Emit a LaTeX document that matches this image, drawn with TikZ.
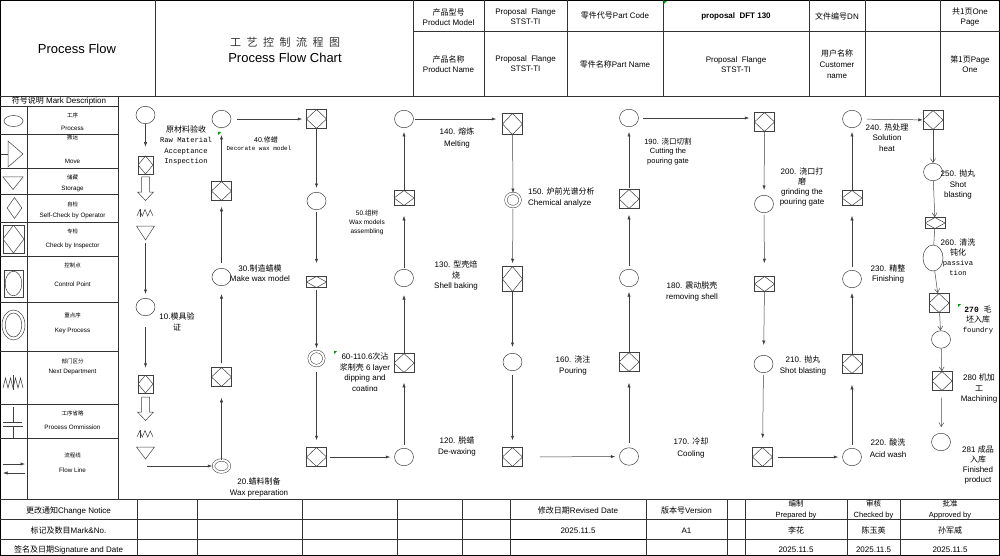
\documentclass[tikz,border=0pt]{standalone}
\usepackage{fontspec}
\setmainfont{Liberation Sans}
\newfontfamily\cjk{Noto Sans CJK SC}
\newfontfamily\monof{Liberation Mono}
\usetikzlibrary{shapes.geometric,arrows.meta}
\newcommand{\zh}[1]{{\cjk #1}}
\newcommand{\zhs}[1]{{\fontsize{5.5}{7}\selectfont\cjk #1}}
\newcommand{\fsLab}{\fontsize{8}{10.5}\selectfont}
\newcommand{\fsLeg}{\fontsize{6.3}{8}\selectfont}
\newcommand{\fsHead}{\fontsize{8}{10}\selectfont}
\newcommand{\fsFoot}{\fontsize{8}{10.5}\selectfont}
\tikzset{
  frame/.style={draw=black, line width=0.6pt},
  grid/.style={draw=black!80, line width=0.5pt},
  sym/.style={draw=black!75, line width=0.5pt},
  proc/.style={ellipse, sym, minimum width=19pt, minimum height=17.5pt, inner sep=0pt},
  chkbox/.style={rectangle, sym, minimum width=20pt, minimum height=19pt, inner sep=0pt,
     path picture={\draw[black!75, line width=0.5pt] (path picture bounding box.north) -- (path picture bounding box.east) -- (path picture bounding box.south) -- (path picture bounding box.west) -- cycle;}},
  keyp/.style={ellipse, sym, double=white, double distance=2pt, inner sep=0pt},
  ar/.style={draw=black!75, line width=0.5pt, -{Latex[length=4.5pt,width=3.2pt]}},
  arv/.style={draw=black!70, line width=0.5pt, -{Straight Barb[length=4pt,width=5pt]}},
  lab/.style={font=\fsLab, align=center, inner sep=0pt},
  leg/.style={font=\fsLeg, inner sep=0pt},
  hd/.style={font=\fsHead, align=center, inner sep=0pt},
  ft/.style={font=\fsFoot, align=center, inner sep=0pt},
  cmark/.style={fill=green!60!black},
}
\begin{document}
\begin{tikzpicture}[x=1pt,y=-1pt]
\useasboundingbox (0,0) rectangle (1000,556);
\fill[white] (0,0) rectangle (1000,556);

% ---------- grid ----------
\draw[frame] (0.5,0.5) rectangle (999.5,555.5);
\draw[grid] (0,96) -- (1000,96);
\draw[grid] (155,0) -- (155,96);
\draw[grid] (413,0) -- (413,96);
\draw[grid] (413,31.5) -- (1000,31.5);
\foreach \xx in {484,567,663,809,865,940} \draw[grid] (\xx,0) -- (\xx,96);
\draw[grid] (118,96) -- (118,499.5);
\draw[grid] (27,106) -- (27,499.5);
\foreach \yy in {106,134,168,194,222,256,302,351,404,438} \draw[grid] (0,\yy) -- (118,\yy);
\draw[grid] (0,499.5) -- (1000,499.5);
\draw[grid] (0,519.5) -- (1000,519.5);
\draw[grid] (0,539) -- (1000,539);
\draw[draw=black, line width=1pt] (510,539) -- (646,539);
\foreach \xx in {137,197,302,397,462,510,646,727,745,847,900} \draw[grid] (\xx,499.5) -- (\xx,556);

% ---------- header ----------
\node[font=\fontsize{13}{15}\selectfont, inner sep=0pt] (tpf) at (77,49) {Process Flow};
\node[font=\fontsize{11}{13}\selectfont\cjk, text=black!80, inner sep=0pt] (tzh) at (285,42) {工\hspace{5.5pt}艺\hspace{5.5pt}控\hspace{5.5pt}制\hspace{5.5pt}流\hspace{5.5pt}程\hspace{5.5pt}图};
\node[font=\fontsize{13}{15}\selectfont, inner sep=0pt] (ten) at (285,58) {Process Flow Chart};

\node[hd] (h11) at (448.5,16.7) {\zh{产品型号}\\Product Model};
\node[hd] (h12) at (525.5,16.7) {Proposal\ \ Flange\\STST-TI};
\node[hd] (h13) at (615,16) {\zh{零件代号}Part Code};
\node[hd, font=\fsHead\bfseries] (h14) at (736,16) {proposal\ \ DFT 130};
\node[hd] (h15) at (837,16) {\zh{文件编号}DN};
\node[hd] (h17) at (970,17) {\zh{共1页}One\\Page};
\node[hd] (h21) at (448.5,64) {\zh{产品名称}\\Product Name};
\node[hd] (h22) at (525.5,64) {Proposal\ \ Flange\\STST-TI};
\node[hd] (h23) at (615,64) {\zh{零件名称}Part Name};
\node[hd] (h24) at (736,64.5) {Proposal\ \ Flange\\STST-TI};
\node[hd, font=\fontsize{8}{11}\selectfont] (h25) at (837,64) {\zh{用户名称}\\Customer\\name};
\node[hd] (h27) at (970,64.5) {\zh{第1页}Page\\One};

% ---------- legend ----------
\node[font=\fontsize{8}{10}\selectfont, inner sep=0pt] (gT) at (59,101) {\zh{符号说明} Mark Description};
\node[leg] at (72.5,115) {\zhs{工序}};   \node[leg] at (72.5,128) {Process};
\node[leg] at (72.5,137.5) {\zhs{搬运}}; \node[leg] at (72.5,161) {Move};
\node[leg] at (72.5,177) {\zhs{储藏}};   \node[leg] at (72.5,188.5) {Storage};
\node[leg] at (72.5,204) {\zhs{自检}};   \node[leg] at (72.5,216) {Self-Check by Operator};
\node[leg] at (72.5,231) {\zhs{专检}};   \node[leg] at (72.5,246) {Check by Inspector};
\node[leg] at (72.5,265) {\zhs{控制点}}; \node[leg] at (72.5,284) {Control Point};
\node[leg] at (72.5,315) {\zhs{重点序}}; \node[leg] at (72.5,331) {Key Process};
\node[leg] at (72.5,361) {\zhs{部门区分}}; \node[leg] at (72.5,371.5) {Next Department};
\node[leg] at (72.5,413) {\zhs{工序省略}}; \node[leg] at (72.5,427) {Process Ommission};
\node[leg] at (72.5,455) {\zhs{流程线}}; \node[leg] at (72.5,470) {Flow Line};

\node[ellipse, sym, minimum width=19pt, minimum height=11pt, inner sep=0pt] (gProc) at (13.5,121) {};
\draw[sym] (8,141) -- (23,154) -- (8,167) -- cycle; \draw[sym] (1,154) -- (8,154);
\draw[sym] (3,177) -- (23,177) -- (13,189.5) -- cycle;
\node[diamond, sym, minimum width=15pt, minimum height=21pt, inner sep=0pt] (gSelf) at (14.5,208) {};
\node[chkbox, minimum width=21pt, minimum height=28pt] (gChk) at (13.5,239) {};
\node[rectangle, sym, minimum width=19pt, minimum height=27pt, inner sep=0pt] (gCtl) at (13.5,283.5) {};
\draw[sym] (gCtl.center) ellipse [x radius=8.3, y radius=12.3];
\draw[sym] (13.5,325) ellipse [x radius=11.5, y radius=15];
\draw[sym] (13.5,325) ellipse [x radius=8.3, y radius=12];
\draw[sym] (3,388) -- (5.5,378) -- (8,388) -- (10.5,378) -- (13,388) -- (15.5,378) -- (18,388) -- (20.5,378) -- (23,388);
\draw[sym] (13,375) -- (13,390);
\draw[sym] (13,407) -- (13,422) (3,422) -- (22,422) (3,426) -- (23,426) (13,426) -- (13,438);
\draw[ar] (3,464) -- (25,464);
\draw[ar] (25,473) -- (3,473);

% ---------- column 1 ----------
\node[proc] (c0) at (145.5,115) {};
\node[chkbox, minimum width=15pt, minimum height=18pt] (k0) at (145.5,165) {};
\draw[sym] (141.5,177) -- (149.5,177) -- (149.5,192) -- (153.5,192) -- (145.5,200.5) -- (137.5,192) -- (141.5,192) -- cycle;
\draw[sym] (137,216) -- (139.7,210) -- (142.3,216) -- (145,209.5) -- (147.7,216) -- (150.3,210) -- (153,216);
\draw[sym] (140.5,209) -- (140.5,217);
\draw[sym] (136.5,226) -- (154.5,226) -- (145.5,240) -- cycle;
\coordinate (t1) at (145.5,240);
\node[proc] (c10) at (145.5,307) {};
\node[chkbox, minimum width=15pt, minimum height=18pt] (k10) at (145.5,384) {};
\draw[sym] (141.5,397) -- (149.5,397) -- (149.5,412) -- (153.5,412) -- (145.5,420.5) -- (137.5,412) -- (141.5,412) -- cycle;
\draw[sym] (137,437) -- (139.7,431) -- (142.3,437) -- (145,430.5) -- (147.7,437) -- (150.3,431) -- (153,437);
\draw[sym] (140.5,430) -- (140.5,438);
\draw[sym] (136.5,447) -- (154.5,447) -- (145.5,459) -- cycle;
\coordinate (s20) at (147,466);

% ---------- column 2 ----------
\node[keyp, minimum width=16pt, minimum height=12pt] (d20) at (221.5,466) {};
\node[chkbox] (k20) at (221.5,377) {};
\node[proc] (c30) at (221.5,277) {};
\node[chkbox] (k30) at (221.5,191) {};
\node[proc] (c40) at (221.5,119) {};

% ---------- column 3 ----------
\node[chkbox] (k40) at (316.5,119) {};
\node[proc] (c50) at (316.5,201) {};
\node[chkbox, minimum height=11pt] (f50) at (316.5,282) {};
\node[keyp, minimum width=14.7pt, minimum height=14.2pt] (d60) at (316.5,358.5) {};
\node[chkbox] (k110) at (316.5,457) {};

% ---------- column 4 ----------
\node[proc] (c120) at (404,457) {};
\node[chkbox] (k120) at (404,363) {};
\node[proc] (c130) at (404,278) {};
\node[chkbox, minimum height=15pt] (k130) at (404,198) {};
\node[proc] (c140) at (404,119) {};

% ---------- column 5 ----------
\node[chkbox, minimum height=21pt] (k140) at (512.5,124) {};
\node[keyp, minimum width=14.2pt, minimum height=13.2pt] (d150) at (513,200) {};
\node[chkbox, minimum height=25pt] (k150) at (512.5,279) {};
\node[proc] (c160) at (512.5,362) {};
\node[chkbox] (k160) at (512.5,457) {};

% ---------- column 6 ----------
\node[proc] (c170) at (629,456.5) {};
\node[chkbox] (k170) at (629,362) {};
\node[proc] (c180) at (629,278) {};
\node[chkbox] (k180) at (629,199) {};
\node[proc] (c190) at (629,118) {};

% ---------- column 7 ----------
\node[chkbox] (k190) at (764.5,122) {};
\node[proc] (c200) at (764,204) {};
\node[chkbox, minimum height=15pt] (f200) at (764.5,284) {};
\node[proc] (c210) at (763.5,364) {};
\node[chkbox] (k210) at (762.5,457) {};

% ---------- column 8 ----------
\node[proc] (c220) at (852,457) {};
\node[chkbox] (k220) at (852,364) {};
\node[proc] (c230) at (852,279) {};
\node[chkbox, minimum height=15pt] (k230) at (852,198) {};
\node[proc] (c240) at (852,119) {};

% ---------- column 9 ----------
\node[chkbox] (k240) at (933,120) {};
\node[proc] (c250) at (933,172) {};
\node[chkbox, minimum height=11pt] (f250) at (935,223) {};
\node[ellipse, sym, minimum width=20pt, minimum height=26pt, inner sep=0pt] (e260) at (933,258) {};
\node[chkbox] (k260) at (939,303) {};
\node[proc] (c270) at (941,339.5) {};
\node[chkbox] (k270) at (942,381) {};
\node[proc] (c281) at (941,442) {};

% ---------- connectors ----------
\draw[ar, shorten >=9pt] (c0) -- (k0);
\draw[ar, shorten <=3pt, shorten >=4pt] (t1) -- (c10);
\draw[ar, shorten <=11pt, shorten >=7pt] (c10) -- (k10);
\draw[ar, shorten >=1pt] (s20) -- (d20);
\draw[ar, shorten >=11pt] (d20) -- (k20);
\draw[ar, shorten <=4pt, shorten >=8pt] (k20) -- (c30);
\draw[ar, shorten <=5pt, shorten >=6pt] (c30) -- (k30);
\draw[ar, shorten >=7pt] (k30) -- (c40);
\draw[ar, shorten <=6pt, shorten >=4pt] (c40) -- (k40);
\draw[ar, shorten >=4pt] (k40) -- (c50);
\draw[ar, shorten <=2pt, shorten >=13pt] (c50) -- (f50);
\draw[ar, shorten <=2pt, shorten >=3pt] (f50) -- (d60);
\draw[ar, shorten <=6pt, shorten >=7pt] (d60) -- (k110);
\draw[ar, shorten <=3pt, shorten >=4pt] (k110) -- (c120);
\draw[ar, shorten <=3pt, shorten >=10pt] (c120) -- (k120);
\draw[ar, shorten >=8pt] (k120) -- (c130);
\draw[ar, shorten <=1pt, shorten >=10pt] (c130) -- (k130);
\draw[ar, shorten >=4pt] (k130) -- (c140);
\draw[ar, shorten <=1pt, shorten >=6pt] (c140) -- (c140 -| k140.west);
\draw[ar] (k140) -- (d150);
\draw[ar, shorten <=2pt, shorten >=3pt] (d150) -- (k150);
\draw[ar, shorten >=6pt] (k150) -- (c160);
\draw[ar, shorten <=4pt, shorten >=7pt] (c160) -- (k160);
\draw[ar, shorten <=17pt, shorten >=4pt] (k160) -- (c170);
\draw[ar, shorten <=5pt, shorten >=11pt] (c170) -- (k170);
\draw[ar, shorten >=5pt] (k170) -- (c180);
\draw[ar, shorten <=3pt, shorten >=6pt] (c180) -- (k180);
\draw[ar, shorten <=1pt, shorten >=5pt] (k180) -- (c190);
\draw[ar, shorten <=4pt, shorten >=5pt] (c190) -- (c190 -| k190.west);
\draw[ar, shorten >=5pt] (k190) -- (c200);
\draw[ar, shorten <=2pt, shorten >=13pt] (c200) -- (f200);
\draw[ar, shorten >=10pt] (f200) -- (c210);
\draw[ar, shorten <=2pt, shorten >=9pt] (c210) -- (k210);
\draw[ar, shorten <=5pt, shorten >=4pt] (k210) -- (c220);
\draw[ar, shorten <=3pt, shorten >=11pt] (c220) -- (k220);
\draw[ar, shorten >=5pt] (k220) -- (c230);
\draw[ar, shorten <=3pt, shorten >=10pt] (c230) -- (k230);
\draw[ar, shorten >=4pt] (k230) -- (c240);
\draw[ar, shorten <=5pt] (c240) -- (k240);
\draw[arv] (k240) -- (c250);
\draw[arv] (c250) -- (f250);
\draw[sym] (f250) -- (e260);
\draw[arv] (e260) -- (k260);
\draw[arv] (k260) -- (c270);
\draw[arv] (c270) -- (k270);
\draw[arv, shorten <=7pt, shorten >=6pt] (k270) -- (c281);

% ---------- labels ----------
\node[lab, font=\monof\fontsize{7.2}{10.2}\selectfont] (l0) at (186,145.3) {{\fontsize{8}{10.2}\selectfont\cjk 原材料验收}\\Raw Material\\Acceptance\\Inspection};
\node[lab, font=\fontsize{8}{11}\selectfont] (l10) at (177,321.5) {10.\zh{模具验}\\\zh{证}};
\node[lab, font=\fontsize{8}{11}\selectfont] (l20) at (259,487.5) {20.\zh{蜡料制备}\\Wax preparation};
\node[lab, font=\fontsize{8}{10}\selectfont] (l30) at (260,273) {30.\zh{制造蜡模}\\Make wax model};
\node[lab, font=\fontsize{7}{8}\selectfont] (l40a) at (266,140) {40.\zh{修蜡}};
\node[lab, font=\monof\fontsize{6}{8}\selectfont] (l40b) at (259,148.5) {Decorate wax model};
\node[lab, font=\fontsize{6.5}{9}\selectfont] (l50) at (367,222) {50.\zh{组树}\\Wax models\\assembling};
\begin{scope}
\clip (330,345) rectangle (400,390.5);
\node[lab, font=\fontsize{8}{10.7}\selectfont] (l60) at (365,373) {60-110.6\zh{次沾}\\\zh{浆制壳} 6 layer\\dipping and\\coating};
\end{scope}
\node[lab, font=\fontsize{8}{11}\selectfont] (l120) at (457,446.5) {120. \zh{脱蜡}\\De-waxing};
\node[lab] (l130) at (456,275.5) {130. \zh{型壳焙}\\\zh{烧}\\Shell baking};
\node[lab, font=\fontsize{8}{11.5}\selectfont] (l140) at (457,138) {140. \zh{熔炼}\\Melting};
\node[lab, font=\fontsize{8}{11}\selectfont, align=left, anchor=west] (l150) at (528,197.5) {150. \zh{炉前光谱分析}\\Chemical analyze};
\node[lab, font=\fontsize{8}{11}\selectfont] (l160) at (573,365.5) {160. \zh{浇注}\\Pouring};
\node[lab, font=\fontsize{8}{12}\selectfont] (l170) at (691,448) {170. \zh{冷却}\\Cooling};
\node[lab, font=\fontsize{8}{11}\selectfont] (l180) at (692,291.5) {180. \zh{震动脱壳}\\removing shell};
\node[lab, font=\fontsize{7.5}{9.5}\selectfont] (l190) at (668,151.5) {190. \zh{浇口切割}\\Cutting the\\pouring gate};
\node[lab, font=\fontsize{8}{10.3}\selectfont] (l200) at (802,187) {200. \zh{浇口打}\\\zh{磨}\\grinding the\\pouring gate};
\node[lab, font=\fontsize{8}{11}\selectfont] (l210) at (803,365.5) {210. \zh{抛丸}\\Shot blasting};
\node[lab, font=\fontsize{8}{12}\selectfont] (l220) at (888,448) {220. \zh{酸洗}\\Acid wash};
\node[lab, font=\fontsize{8}{10}\selectfont] (l230) at (888,274) {230. \zh{精整}\\Finishing};
\node[lab] (l240) at (887,137.5) {240. \zh{热处理}\\Solution\\heat};
\node[lab, font=\fontsize{8}{10.5}\selectfont] (l250) at (958,184.5) {250. \zh{抛丸}\\Shot\\blasting};
\node[lab, font=\fontsize{8}{10}\selectfont] (l260) at (958,257) {260. \zh{清洗}\\\zh{钝化}\\{\monof\fontsize{7.2}{10}\selectfont passiva}\\{\monof\fontsize{7.2}{10}\selectfont tion}};
\node[lab, font=\fontsize{8}{10}\selectfont] (l270) at (978,320) {{\monof\bfseries 270 }\zh{毛}\\\zh{坯入库}\\{\monof\fontsize{7.2}{10}\selectfont foundry}};
\node[lab] (l280) at (979,388.5) {280 \zh{机加}\\\zh{工}\\Machining};
\node[lab, font=\fontsize{8}{10.3}\selectfont] (l281) at (978,465) {281 \zh{成品}\\\zh{入库}\\Finished\\product};

% ---------- footer ----------
\node[ft] (f11) at (68.5,510.7) {\zh{更改通知}Change Notice};
\node[ft] (f12) at (578,510) {\zh{修改日期}Revised Date};
\node[ft] (f13) at (686.5,510) {\zh{版本号}Version};
\node[ft, font=\fontsize{7.5}{10.5}\selectfont] (f14) at (796,509.5) {\zh{编制}\\Prepared by};
\node[ft, font=\fontsize{7.5}{10.5}\selectfont] (f15) at (873.5,509.5) {\zh{审核}\\Checked by};
\node[ft, font=\fontsize{7.5}{10.5}\selectfont] (f16) at (950,509.5) {\zh{批准}\\Approved by};
\node[ft] (f21) at (68.5,530.3) {\zh{标记及数目}Mark\&No.};
\node[ft] (f22) at (578,530.3) {2025.11.5};
\node[ft] (f23) at (686.5,530.3) {A1};
\node[ft] (f24) at (796,530.3) {\zh{李花}};
\node[ft] (f25) at (873.5,530.3) {\zh{陈玉英}};
\node[ft] (f26) at (950,530.3) {\zh{孙军威}};
\node[ft] (f31) at (68.5,549.5) {\zh{签名及日期}Signature and Date};
\node[ft] (f34) at (796,549.5) {2025.11.5};
\node[ft] (f35) at (873.5,549.5) {2025.11.5};
\node[ft] (f36) at (950,549.5) {2025.11.5};

% ---------- comment markers ----------
\fill[cmark] (663.5,0.8) -- (667,0.8) -- (663.5,4.3) -- cycle;
\fill[cmark] (218,132) -- (221,132) -- (218,135) -- cycle;
\fill[cmark] (334,351) -- (337,351) -- (334,354) -- cycle;
\fill[cmark] (958,304) -- (961,304) -- (958,307) -- cycle;
\end{tikzpicture}
\end{document}
